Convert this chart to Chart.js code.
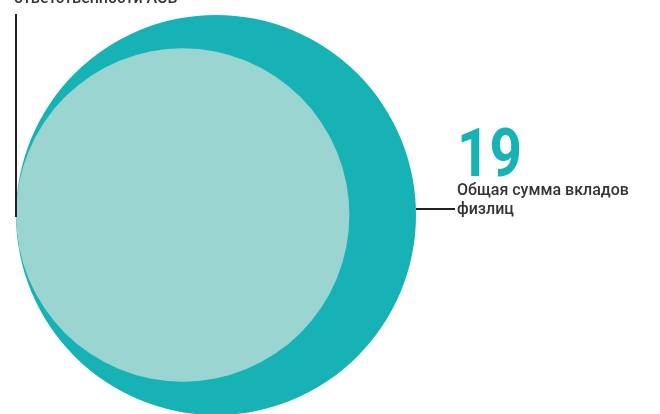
<!DOCTYPE html>
<html>
<head>
<meta charset="utf-8">
<script src="https://cdn.jsdelivr.net/npm/chart.js@4/dist/chart.umd.min.js"></script>
<style>
  html, body { margin: 0; padding: 0; background: #fff; }
  #wrap { width: 660px; height: 414px; position: relative; }
</style>
</head>
<body>
<div id="wrap"><canvas id="chart"></canvas></div>
<script>
// values in трлн руб., circle area follows the value
const labels = ['Общая сумма вкладов физлиц', 'ответственности АСВ'];
const values = [19, 13.2];
const valueLabels = ['19', ''];
const colors = ['#17b2b6', '#9ad5d2'];

const maxR = 200;
const maxV = Math.max(...values);
const points = values.map(v => {
  const r = maxR * Math.sqrt(v / maxV);
  return { x: r, y: 199, r: r };
});

const leaders = {
  id: 'leaders',
  afterDraw(chart) {
    const ctx = chart.ctx;
    const els = chart.getDatasetMeta(0).data;
    const big = els[0], small = els[1];
    const rBig = points[0].r, rSmall = points[1].r;
    ctx.save();
    ctx.strokeStyle = '#222';
    ctx.lineWidth = 2;
    // right leader from big circle
    const ly = big.y - 6;
    ctx.beginPath();
    ctx.moveTo(big.x + rBig, ly);
    ctx.lineTo(big.x + rBig + 39, ly);
    ctx.stroke();
    // left leader down to small circle
    const lx = small.x - rSmall;
    ctx.beginPath();
    ctx.moveTo(lx, 14);
    ctx.lineTo(lx, small.y + 2);
    ctx.stroke();

    // big value
    const tx = big.x + rBig + 41;
    ctx.fillStyle = colors[0];
    ctx.textBaseline = 'alphabetic';
    ctx.font = 'bold 66px Roboto';
    ctx.save();
    ctx.translate(tx, 176);
    ctx.scale(0.86, 1);
    ctx.fillText(valueLabels[0], 0, 0);
    ctx.restore();

    ctx.fillStyle = '#333';
    ctx.font = '500 16px Roboto';
    ctx.fillText('Общая сумма вкладов', tx, 195);
    ctx.fillText('физлиц', tx, 214);

    // cut-off caption of the smaller circle
    ctx.fillText(labels[1], lx - 2, 3);
    ctx.restore();
  }
};

new Chart(document.getElementById('chart'), {
  type: 'bubble',
  data: {
    labels: labels,
    datasets: [{
      data: points,
      backgroundColor: colors,
      borderWidth: 0,
      hoverBorderWidth: 0,
      clip: false
    }]
  },
  options: {
    responsive: true,
    maintainAspectRatio: false,
    animation: false,
    events: [],
    layout: { padding: 0, autoPadding: false },
    plugins: { legend: { display: false }, tooltip: { enabled: false } },
    scales: {
      x: { type: 'linear', min: -16, max: 644, display: false },
      y: { type: 'linear', min: 0, max: 414, display: false }
    }
  },
  plugins: [leaders]
});
</script>
</body>
</html>
